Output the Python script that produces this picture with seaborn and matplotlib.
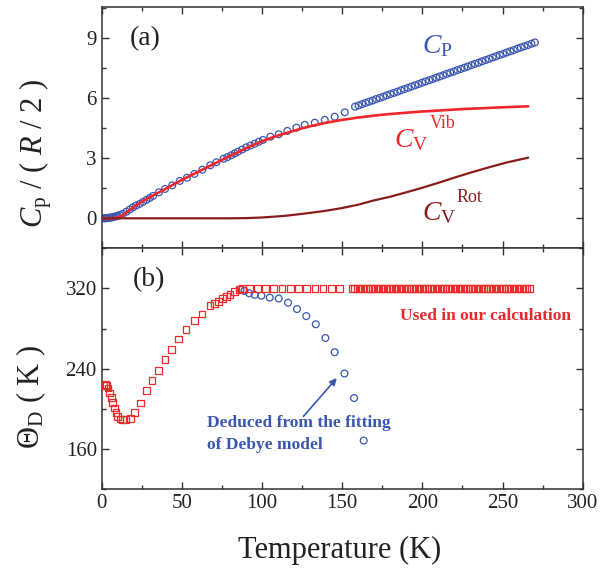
import matplotlib
matplotlib.use("Agg")
import matplotlib.pyplot as plt
import seaborn as sns
from matplotlib.ticker import MultipleLocator

# ---------------- data ----------------
# panel (a): Cp data (open circles)
T_cp = [1.5, 2.0, 2.5, 3.0, 3.5, 4.0, 5.0, 6.0, 7.0, 8.0, 9.0, 10.0,
        11.2, 13.0, 15.4, 17.5, 19.5, 21.5, 23.7, 25.8, 27.9, 30.0, 32.0,
        35.7, 39.5, 44.0, 48.7, 53.2, 57.8, 62.8, 67.7, 71.5, 76.0, 78.4,
        80.8, 83.0, 85.0, 87.6, 90.2, 92.8, 95.4, 98.0, 100.6, 105.2, 110.4,
        115.8, 121.4, 126.6, 132.9, 139.1, 145.3, 151.6,
        158.0, 160.2, 162.4, 164.6, 166.8, 169.0, 171.2, 173.4, 175.6, 177.8,
        180.0, 182.2, 184.4, 186.6, 188.8, 191.0, 193.2, 195.4, 197.6, 199.8,
        202.0, 204.2, 206.4, 208.6, 210.8, 213.0, 215.2, 217.4, 219.6, 221.8,
        224.0, 226.2, 228.4, 230.6, 232.8, 235.0, 237.2, 239.4, 241.6, 243.8,
        246.0, 248.2, 250.4, 252.6, 254.8, 257.0, 259.2, 261.4, 263.6, 265.8,
        268.0, 270.2]
cp_vals = [0.0, 0.0, 0.01, 0.01, 0.02, 0.02, 0.03, 0.04, 0.06, 0.08, 0.10, 0.13,
           0.16, 0.22, 0.33, 0.44, 0.55, 0.64, 0.72, 0.82, 0.92, 1.02, 1.12,
           1.30, 1.47, 1.65, 1.87, 2.03, 2.22, 2.43, 2.65, 2.80, 2.98, 3.06,
           3.15, 3.24, 3.33, 3.44, 3.55, 3.64, 3.73, 3.83, 3.92, 4.08, 4.20,
           4.37, 4.53, 4.67, 4.78, 4.92, 5.08, 5.30,
           5.58, 5.64, 5.71, 5.77, 5.83, 5.89, 5.96, 6.02, 6.08, 6.15,
           6.21, 6.27, 6.33, 6.40, 6.46, 6.52, 6.59, 6.65, 6.71, 6.78,
           6.84, 6.90, 6.96, 7.03, 7.09, 7.15, 7.22, 7.28, 7.34, 7.41,
           7.47, 7.53, 7.59, 7.66, 7.72, 7.78, 7.85, 7.91, 7.97, 8.04,
           8.10, 8.16, 8.22, 8.29, 8.35, 8.41, 8.48, 8.54, 8.60, 8.66,
           8.73, 8.79]

# panel (a): Cv vibrational (red line)
T_vib = [0, 5, 8, 10, 12, 14, 16, 18, 20, 25, 30, 35, 40, 45, 50, 55, 60, 65,
         70, 75, 80, 85, 90, 95, 100, 105, 110, 115, 120, 125, 130, 140, 150,
         160, 175, 190, 200, 225, 250, 266]
cv_vib = [0.0, 0.0, 0.01, 0.04, 0.10, 0.20, 0.32, 0.44, 0.56, 0.83, 1.05, 1.27,
          1.48, 1.70, 1.92, 2.12, 2.32, 2.52, 2.72, 2.92, 3.12, 3.30, 3.50,
          3.68, 3.85, 4.00, 4.14, 4.26, 4.38, 4.50, 4.60, 4.78, 4.92, 5.04,
          5.18, 5.28, 5.34, 5.46, 5.55, 5.60]

# panel (a): Cv rotational (dark red line)
T_rot = [0, 60, 80, 90, 100, 107, 115, 128, 140, 149, 160, 169, 180, 190, 200,
         211, 221, 232, 242, 253, 266]
cv_rot = [0.0, 0.0, 0.0, 0.01, 0.04, 0.08, 0.13, 0.25, 0.38, 0.50, 0.68, 0.88,
          1.08, 1.30, 1.53, 1.80, 2.06, 2.33, 2.56, 2.80, 3.03]

# panel (b): Debye temperature used in calculation (red squares)
T_used = [1.3, 2.2, 3.0, 3.9, 4.9, 5.9, 6.9, 7.9, 8.9, 9.9, 11.4, 13.1, 15.2,
          17.9, 20.6, 24.0, 28.1, 31.4, 35.6, 39.5, 43.7, 48.0, 52.6, 57.9,
          62.6, 67.6, 70.4, 72.8, 75.5, 78.0, 80.0, 82.8, 85.9, 88.0, 92.3,
          97.0, 102.2, 107.3, 112.5, 117.7, 122.6, 127.8, 133.0, 138.0, 143.2,
          148.4,
          156.3, 157.9, 159.5, 161.1, 162.7, 164.3, 165.9, 167.5, 169.1, 170.7,
          172.3, 173.9, 175.5, 177.1, 178.7, 180.3, 181.9, 183.5, 185.1, 186.7,
          188.3, 189.9, 191.5, 193.1, 194.7, 196.3, 197.9, 199.5, 201.1, 202.7,
          204.3, 205.9, 207.5, 209.1, 210.7, 212.3, 213.9, 215.5, 217.1, 218.7,
          220.3, 221.9, 223.5, 225.1, 226.7, 228.3, 229.9, 231.5, 233.1, 234.7,
          236.3, 237.9, 239.5, 241.1, 242.7, 244.3, 245.9, 247.5, 249.1, 250.7,
          252.3, 253.9, 255.5, 257.1, 258.7, 260.3, 261.9, 263.5, 265.1, 266.7]
theta_used = [223.0, 224.0, 223.5, 220.8, 215.8, 211.5, 206.5, 201.0, 196.6,
              192.6, 190.0, 189.4, 189.4, 190.3, 196.6, 205.9, 218.4, 228.0,
              238.3, 248.9, 259.5, 269.7, 279.3, 288.5, 294.5, 302.7, 305.0,
              307.4, 310.0, 312.4, 314.3, 316.6, 319.3, 320.0, 320.0, 320.0,
              320.0, 320.0, 320.0, 320.0, 320.0, 320.0, 320.0, 320.0, 320.0,
              320.0,
              320.0, 320.0, 320.0, 320.0, 320.0, 320.0, 320.0, 320.0, 320.0, 320.0,
              320.0, 320.0, 320.0, 320.0, 320.0, 320.0, 320.0, 320.0, 320.0, 320.0,
              320.0, 320.0, 320.0, 320.0, 320.0, 320.0, 320.0, 320.0, 320.0, 320.0,
              320.0, 320.0, 320.0, 320.0, 320.0, 320.0, 320.0, 320.0, 320.0, 320.0,
              320.0, 320.0, 320.0, 320.0, 320.0, 320.0, 320.0, 320.0, 320.0, 320.0,
              320.0, 320.0, 320.0, 320.0, 320.0, 320.0, 320.0, 320.0, 320.0, 320.0,
              320.0, 320.0, 320.0, 320.0, 320.0, 320.0, 320.0, 320.0, 320.0, 320.0]

# panel (b): Debye temperature from Debye-model fit (blue circles)
T_fit = [86.5, 89.0, 91.9, 95.4, 99.6, 104.8, 110.4, 116.2, 121.8, 127.6,
         133.5, 139.5, 145.3, 151.4, 157.4, 163.4]
theta_fit = [319.0, 317.5, 315.3, 313.7, 312.8, 310.9, 310.0, 305.8, 299.5,
             292.5, 284.3, 270.7, 256.5, 235.3, 210.9, 168.5]

x_ticks = [0, 50, 100, 150, 200, 250, 300]
ya_ticks = [0, 3, 6, 9]
yb_ticks = [160, 240, 320]

# ---------------- style ----------------
sns.set_style("ticks")
plt.rcParams["font.family"] = ["Liberation Serif", "DejaVu Serif"]
plt.rcParams["mathtext.fontset"] = "custom"
plt.rcParams["mathtext.rm"] = "Liberation Serif"
plt.rcParams["mathtext.it"] = "Liberation Serif:italic"
plt.rcParams["mathtext.bf"] = "Liberation Serif:bold"

BLUE = "#3A56AE"
RED = "#EE2B2B"
REDLINE = "#F0262A"
DARKRED = "#8B1C1C"
TXT = "#222222"

fig = plt.figure(figsize=(6.0, 5.69), dpi=100)
ax1 = fig.add_axes([0.1695, 0.5636, 0.8017, 0.4236])
ax2 = fig.add_axes([0.1695, 0.1401, 0.8017, 0.4235], sharex=ax1)

# ---- panel (a)
sns.scatterplot(x=T_cp, y=cp_vals, ax=ax1, marker="o", s=24,
                facecolor="none", edgecolor=BLUE, linewidth=0.9, zorder=2)
sns.lineplot(x=T_vib, y=cv_vib, ax=ax1, color=REDLINE, lw=1.9,
             sort=False, estimator=None, zorder=3)
sns.lineplot(x=T_rot, y=cv_rot, ax=ax1, color=DARKRED, lw=1.6,
             sort=False, estimator=None, zorder=3)

ax1.set_xlim(0, 300)
ax1.set_ylim(-1.5, 10.55)
ax1.yaxis.set_major_locator(MultipleLocator(3))
ax1.yaxis.set_minor_locator(MultipleLocator(1.5))

ax1.text(17.7, 9.0, "(a)", fontsize=20, ha="left", va="center", color=TXT)
# Cp label
ax1.text(199.6, 8.25, r"$C_{\mathrm{P}}$", fontsize=20, color=BLUE, va="baseline")
# Cv vib label
ax1.text(182.0, 3.58, r"$C_{\mathrm{V}}$", fontsize=20, color=REDLINE, va="baseline")
ax1.text(204.5, 4.53, "Vib", fontsize=13, color=REDLINE, va="baseline")
# Cv rot label
ax1.text(199.6, -0.08, r"$C_{\mathrm{V}}$", fontsize=20, color=DARKRED, va="baseline")
ax1.text(221.0, 0.80, "Rot", fontsize=13, color=DARKRED, va="baseline")

ax1.set_ylabel(r"$C_{\mathrm{p}}$ / ( $R$ / 2 )", fontsize=22, color=TXT)
ax1.yaxis.set_label_coords(-0.10, 0.395)
ax1.set_xlabel("")

# ---- panel (b)
sns.scatterplot(x=T_fit, y=theta_fit, ax=ax2, marker="o", s=24,
                facecolor="none", edgecolor=BLUE, linewidth=0.9, zorder=2)
sns.scatterplot(x=T_used, y=theta_used, ax=ax2, marker="s", s=24,
                facecolor="none", edgecolor=RED, linewidth=0.9, zorder=3)

ax2.set_xlim(0, 300)
ax2.set_ylim(120, 360)
ax2.yaxis.set_major_locator(MultipleLocator(80))
ax2.yaxis.set_minor_locator(MultipleLocator(40))
ax2.xaxis.set_major_locator(MultipleLocator(50))
ax2.xaxis.set_minor_locator(MultipleLocator(25))

ax2.text(19.3, 329.2, "(b)", fontsize=20, ha="left", va="center", color=TXT)
ax2.text(186.0, 292.5, "Used in our calculation", fontsize=12.5,
         fontweight="bold", color="#E8282D", ha="left", va="center")
ax2.text(65.9, 182.4, "Deduced from the fitting", fontsize=12.5,
         fontweight="bold", color=BLUE, ha="left", va="baseline")
ax2.text(65.9, 160.6, "of Debye model", fontsize=12.5,
         fontweight="bold", color=BLUE, ha="left", va="baseline")
ax2.annotate("", xy=(146.6, 230.7), xytext=(125.8, 192.6),
             arrowprops=dict(arrowstyle="-|>", color=BLUE, lw=1.2,
                             mutation_scale=10, shrinkA=0, shrinkB=0))

ax2.set_ylabel(r"$\Theta_{\mathrm{D}}$ ( K )", fontsize=22, color=TXT)
ax2.yaxis.set_label_coords(-0.112, 0.383)
ax2.set_xlabel("Temperature (K)", fontsize=22, color=TXT)
ax2.xaxis.set_label_coords(0.495, -0.195)

ax1.set_yticks(ya_ticks)
ax1.set_yticklabels([str(v) for v in ya_ticks])
ax2.set_yticks(yb_ticks)
ax2.set_yticklabels([str(v) for v in yb_ticks])
ax2.set_xticks(x_ticks)
ax2.set_xticklabels([str(v) for v in x_ticks])

for ax in (ax1, ax2):
    ax.tick_params(which="both", direction="in", top=True, right=True,
                   colors="#333333", labelcolor=TXT, labelsize=15)
    ax.tick_params(which="major", length=5, width=1.0)
    ax.tick_params(which="minor", length=3, width=1.0)
    for sp in ax.spines.values():
        sp.set_linewidth(1.1)
        sp.set_color("#333333")
        sp.set_visible(True)
ax1.tick_params(labelbottom=False)

fig.savefig("out.png", dpi=100)
